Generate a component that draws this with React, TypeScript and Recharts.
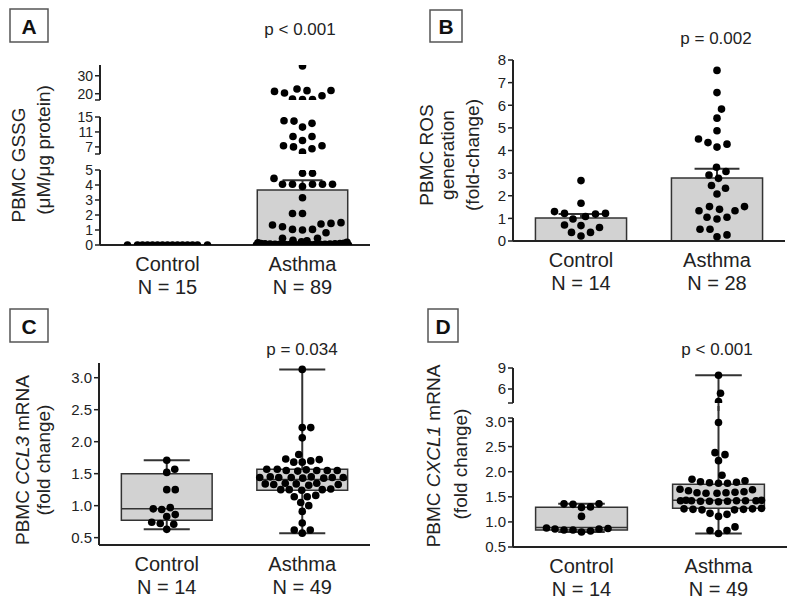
import React from 'react'
import { ComposedChart, XAxis, YAxis, Scatter, ReferenceArea, ReferenceLine } from 'recharts'

const groups = ['Control', 'Asthma']

// A: PBMC GSSG (µM/µg protein), bars = mean ± SEM
const gssgN = ['N = 15', 'N = 89']
const gssgControl = [0, 0, 0, 0, 0, 0, 0, 0, 0, 0, 0, 0, 0, 0, 0]
const gssgAsthma = [
  35.5, 22.6, 21.8, 21.7, 21.3, 20.4, 18.9, 17.0, 16.8, 16.7,
  14.0, 13.9, 13.3, 12.3, 9.8, 9.8, 8.7, 7.3, 7.3, 7.0, 6.5, 5.6,
  4.78, 4.78, 4.44, 4.05, 4.05, 4.05, 4.05, 4.05, 3.9, 3.15, 2.1, 2.1,
  1.49, 1.44, 1.4, 1.33, 1.22, 1.04, 1.04, 1.0, 0.82, 0.45, 0.45,
  0.32, 0.28, 0.22, 0.18, 0.15, 0.12, 0.1, 0.1, 0.08, 0.08, 0.06, 0.06,
  0.05, 0.05, 0.04, 0.04, 0.03, 0.03, 0.03, 0.02, 0.02, 0.02, 0.02,
  0.01, 0.01, 0.01, 0.01, 0.01, 0, 0, 0, 0, 0, 0, 0, 0, 0, 0, 0, 0, 0, 0, 0, 0,
]
const gssgMean = [0, 3.67]
const gssgSem = [0, 0.65]

// B: PBMC ROS generation (fold-change)
const rosN = ['N = 14', 'N = 28']
const rosControl = [2.67, 1.67, 1.3, 1.22, 1.22, 1.19, 1.08, 0.97, 0.71, 0.68, 0.6, 0.38, 0.38, 0.22]
const rosAsthma = [
  7.54, 6.56, 5.83, 5.43, 4.87, 4.51, 4.35, 4.28, 4.15, 3.26, 3.07, 2.92, 2.77, 2.45,
  2.33, 2.08, 1.52, 1.52, 1.4, 1.34, 1.34, 1.05, 1.05, 0.97, 0.52, 0.52, 0.27, 0.19,
]
const rosMean = [1.02, 2.79]
const rosSem = [0.17, 0.4]

// C: PBMC CCL3 mRNA (fold change), box = min / q1 / median / q3 / max
const ccl3N = ['N = 14', 'N = 49']
const ccl3Control = [1.71, 1.57, 1.52, 1.25, 1.25, 0.97, 0.95, 0.94, 0.86, 0.83, 0.74, 0.72, 0.71, 0.63]
const ccl3Asthma = [
  3.13, 2.22, 2.22, 2.06, 1.8, 1.73, 1.72, 1.7, 1.68, 1.68,
  1.57, 1.57, 1.56, 1.55, 1.55, 1.55, 1.55, 1.54,
  1.45, 1.45, 1.44, 1.44, 1.44, 1.44, 1.44, 1.43, 1.43,
  1.35, 1.35, 1.34, 1.34, 1.33, 1.33, 1.32,
  1.26, 1.25, 1.25, 1.25, 1.24, 1.16, 1.14, 1.14, 1.05, 1.0, 0.91, 0.73, 0.62, 0.62, 0.57,
]
const ccl3Min = [0.63, 0.57]
const ccl3Q1 = [0.77, 1.24]
const ccl3Median = [0.95, 1.41]
const ccl3Q3 = [1.5, 1.57]
const ccl3Max = [1.71, 3.13]

// D: PBMC CXCL1 mRNA (fold change)
const cxcl1N = ['N = 14', 'N = 49']
const cxcl1Control = [1.36, 1.36, 1.35, 1.3, 1.29, 1.11, 0.88, 0.87, 0.86, 0.86, 0.84, 0.84, 0.82, 0.8]
const cxcl1Asthma = [
  7.96, 5.4, 4.2, 2.98, 2.38, 2.34, 2.22, 1.93,
  1.85, 1.82, 1.8, 1.79, 1.78, 1.77, 1.77,
  1.65, 1.64, 1.62, 1.6, 1.59, 1.58, 1.58, 1.57, 1.57,
  1.43, 1.43, 1.42, 1.42, 1.42, 1.42, 1.42, 1.41, 1.41, 1.41, 1.4,
  1.27, 1.26, 1.26, 1.25, 1.25, 1.24, 1.24, 1.17, 1.15, 1.11, 0.9, 0.83, 0.83, 0.77,
]
const cxcl1Min = [0.8, 0.77]
const cxcl1Q1 = [0.84, 1.27]
const cxcl1Median = [0.89, 1.43]
const cxcl1Q3 = [1.29, 1.75]
const cxcl1Max = [1.36, 7.96]

const INK = '#222'
const EDGE = '#333'
const FILL = '#d2d2d2'
const FONT = '"Liberation Sans", Arial, sans-serif'
const YW = 46
const MT = 12
const MR = 12
const MB = 8
const XH = 62
const HALF = 0.335
const DOT_R = 3.8

type Seg = { domain: [number, number]; top: number; bottom: number; ticks: number[]; labels: number[]; dec: number }
type Panel = {
  x0: number
  x1: number
  segs: Seg[]
  ns: string[]
  data: number[][]
  gap: number
  maxW: number[]
  fs: number
  bars?: { mean: number[]; sem: number[]; cap: number }
  box?: { min: number[]; q1: number[]; med: number[]; q3: number[]; max: number[]; cap: number }
}

function segIndex(segs: Seg[], v: number) {
  let best = 0
  let bestD = Infinity
  segs.forEach((s, i) => {
    const d = v < s.domain[0] ? s.domain[0] - v : v > s.domain[1] ? v - s.domain[1] : 0
    if (d < bestD) {
      bestD = d
      best = i
    }
  })
  return best
}

function toPx(segs: Seg[], v: number) {
  const s = segs[segIndex(segs, v)]
  return s.bottom - ((v - s.domain[0]) / (s.domain[1] - s.domain[0])) * (s.bottom - s.top)
}

// beeswarm: each dot goes to the free spot nearest the centre; if the group is too wide, dots overlap
function swarm(values: number[], centre: number, segs: Seg[], xppu: number, gap: number, maxW: number) {
  const sorted = [...values].sort((a, b) => a - b)
  const placed: { dx: number; py: number }[] = []
  const out: { x: number; y: number }[] = []
  const half = maxW / 2
  const cands: number[] = []
  for (let c = -half; c <= half + 1e-9; c += 0.5) cands.push(c)
  for (const v of sorted) {
    const py = toPx(segs, v)
    const near = placed.filter((q) => Math.abs(q.py - py) < gap)
    const bias = near.reduce((s, q) => s + q.dx, 0)
    let best = 0
    let bestFree = false
    let bestMd = -1
    for (const c of cands) {
      let md = Infinity
      for (const q of near) md = Math.min(md, Math.hypot(q.dx - c, q.py - py))
      const free = md >= gap
      let better = false
      if (free && !bestFree) better = true
      else if (free && bestFree) {
        const a = Math.abs(c)
        const b = Math.abs(best)
        better = a < b - 1e-9 || (Math.abs(a - b) < 1e-9 && (bias > 0 ? c < best : c > best))
      } else if (!free && !bestFree) {
        better = md > bestMd + 1e-9 || (Math.abs(md - bestMd) < 1e-9 && Math.abs(c) < Math.abs(best))
      }
      if (better) {
        best = c
        bestFree = free
        bestMd = md
      }
    }
    placed.push({ dx: best, py })
    out.push({ x: centre + best / xppu, y: v })
  }
  return out
}

function CatTick(props: any) {
  const { x, y, payload, ns } = props
  const g = payload.value < 1 ? 0 : 1
  return (
    <g>
      <text x={x} y={y + 26} textAnchor="middle" fontSize={20} fill={INK}>
        {groups[g]}
      </text>
      <text x={x} y={y + 49} textAnchor="middle" fontSize={20} fill={INK}>
        {ns[g]}
      </text>
    </g>
  )
}

function ValTick(props: any) {
  const { x, y, payload, seg, fs } = props
  if (!seg.labels.includes(payload.value)) return <g />
  return (
    <text x={x} y={y} dy={fs * 0.36} textAnchor="end" fontSize={fs} fill={INK}>
      {payload.value.toFixed(seg.dec)}
    </text>
  )
}

const Dot = (props: any) => <circle cx={props.cx} cy={props.cy} r={DOT_R} fill="#000" />

function PanelView({ p }: { p: Panel }) {
  const xppu = (p.x1 - p.x0) / 2
  const pts = p.data.map((vals, g) => swarm(vals, g + 0.5, p.segs, xppu, p.gap, p.maxW[g]))
  return (
    <>
      {p.segs.map((s, i) => {
        const last = i === p.segs.length - 1
        const [d0, d1] = s.domain
        const clamp = (v: number) => Math.max(d0, Math.min(d1, v))
        const inSeg = (v: number) => v >= d0 && v <= d1
        const els: React.ReactNode[] = []
        groups.forEach((_, g) => {
          const c = g + 0.5
          if (p.bars) {
            const m = p.bars.mean[g]
            const e = m + p.bars.sem[g]
            const w = p.bars.cap
            if (m > d0)
              els.push(
                <ReferenceArea key={`bar${g}`} x1={c - HALF} x2={c + HALF} y1={d0} y2={clamp(m)} fill={FILL}
                  fillOpacity={1} stroke={EDGE} strokeWidth={1.5} ifOverflow="visible" />,
              )
            if (m > 0 && inSeg(e)) {
              els.push(
                <ReferenceLine key={`err${g}`} segment={[{ x: c, y: m }, { x: c, y: e }]} stroke={EDGE} strokeWidth={2} ifOverflow="visible" />,
                <ReferenceLine key={`cap${g}`} segment={[{ x: c - w, y: e }, { x: c + w, y: e }]} stroke={EDGE} strokeWidth={2} ifOverflow="visible" />,
              )
            }
          }
          if (p.box) {
            const b = p.box
            const w = b.cap
            if (b.q3[g] > d0 && b.q1[g] < d1)
              els.push(
                <ReferenceArea key={`box${g}`} x1={c - HALF} x2={c + HALF} y1={clamp(b.q1[g])} y2={clamp(b.q3[g])} fill={FILL}
                  fillOpacity={1} stroke={EDGE} strokeWidth={1.5} ifOverflow="visible" />,
              )
            if (inSeg(b.med[g]))
              els.push(
                <ReferenceLine key={`med${g}`} segment={[{ x: c - HALF, y: b.med[g] }, { x: c + HALF, y: b.med[g] }]} stroke={EDGE} strokeWidth={1.5} ifOverflow="visible" />,
              )
            if (b.max[g] > d0 && b.q3[g] < d1)
              els.push(
                <ReferenceLine key={`wh${g}`} segment={[{ x: c, y: b.q3[g] }, { x: c, y: b.max[g] }]}
                  stroke={EDGE} strokeWidth={2} ifOverflow="visible" />,
              )
            if (b.min[g] < d1 && b.q1[g] > d0)
              els.push(
                <ReferenceLine key={`wl${g}`} segment={[{ x: c, y: b.min[g] }, { x: c, y: b.q1[g] }]} stroke={EDGE} strokeWidth={2} ifOverflow="visible" />,
              )
            if (inSeg(b.max[g]))
              els.push(
                <ReferenceLine key={`ch${g}`} segment={[{ x: c - w, y: b.max[g] }, { x: c + w, y: b.max[g] }]} stroke={EDGE} strokeWidth={2} ifOverflow="visible" />,
              )
            if (inSeg(b.min[g]))
              els.push(
                <ReferenceLine key={`cl${g}`} segment={[{ x: c - w, y: b.min[g] }, { x: c + w, y: b.min[g] }]} stroke={EDGE} strokeWidth={2} ifOverflow="visible" />,
              )
          }
        })
        const segPts = pts.map((arr) => arr.filter((q) => segIndex(p.segs, q.y) === i))
        const height = s.bottom - s.top + MT + (last ? XH : MB)
        return (
          <div key={i} style={{ position: 'absolute', left: p.x0 - YW, top: s.top - MT }}>
            <ComposedChart width={p.x1 - p.x0 + YW + MR} height={height}
              margin={{ top: MT, right: MR, left: 0, bottom: last ? 0 : MB }}>
              <XAxis type="number" dataKey="x" domain={[0, 2]} ticks={[0.5, 1.5]} allowDataOverflow hide={!last}
                height={XH} interval={0} tickLine={false} tickSize={0} tickMargin={0}
                axisLine={{ stroke: INK, strokeWidth: 2 }} tick={(tp: any) => <CatTick {...tp} ns={p.ns} />} />
              <YAxis type="number" dataKey="y" domain={s.domain} ticks={s.ticks} allowDataOverflow width={YW}
                interval={0} tickSize={5} tickMargin={2} tick={(tp: any) => <ValTick {...tp} seg={s} fs={p.fs} />}
                tickLine={{ stroke: INK, strokeWidth: 1.5 }} axisLine={{ stroke: INK, strokeWidth: 2 }} />
              {els}
              {segPts.map((d, g) => (
                <Scatter key={g} data={d} dataKey="y" shape={Dot} isAnimationActive={false} />
              ))}
            </ComposedChart>
          </div>
        )
      })}
    </>
  )
}

const panelA: Panel = {
  x0: 100, x1: 370, ns: gssgN, data: [gssgControl, gssgAsthma], gap: 10, maxW: [80, 92], fs: 14,
  segs: [
    { domain: [16.5, 36], top: 65, bottom: 100, ticks: [16.5, 20, 30], labels: [20, 30], dec: 0 },
    { domain: [5.1, 15], top: 117, bottom: 154, ticks: [5.1, 7, 11, 15], labels: [7, 11, 15], dec: 0 },
    { domain: [0, 5], top: 170, bottom: 245, ticks: [0, 1, 2, 3, 4, 5], labels: [0, 1, 2, 3, 4, 5], dec: 0 },
  ],
  bars: { mean: gssgMean, sem: gssgSem, cap: 0.148 },
}

const panelB: Panel = {
  x0: 513, x1: 785, ns: rosN, data: [rosControl, rosAsthma], gap: 10, maxW: [70, 80], fs: 15,
  segs: [
    { domain: [0, 8], top: 60, bottom: 241, ticks: [0, 1, 2, 3, 4, 5, 6, 7, 8], labels: [0, 1, 2, 3, 4, 5, 6, 7, 8], dec: 0 },
  ],
  bars: { mean: rosMean, sem: rosSem, cap: 0.165 },
}

const panelC: Panel = {
  x0: 99, x1: 370, ns: ccl3N, data: [ccl3Control, ccl3Asthma], gap: 8.4, maxW: [60, 86], fs: 15,
  segs: [
    { domain: [0.385, 3.23], top: 363, bottom: 545, ticks: [0.5, 1, 1.5, 2, 2.5, 3], labels: [0.5, 1, 1.5, 2, 2.5, 3], dec: 1 },
  ],
  box: { min: ccl3Min, q1: ccl3Q1, med: ccl3Median, q3: ccl3Q3, max: ccl3Max, cap: 0.17 },
}

const panelD: Panel = {
  x0: 513, x1: 787, ns: cxcl1N, data: [cxcl1Control, cxcl1Asthma], gap: 8.6, maxW: [70, 86], fs: 15,
  segs: [
    { domain: [4, 9], top: 368, bottom: 403, ticks: [4, 6, 9], labels: [6, 9], dec: 0 },
    { domain: [0.5, 3.07], top: 418, bottom: 547, ticks: [0.5, 1, 1.5, 2, 2.5, 3, 3.07], labels: [0.5, 1, 1.5, 2, 2.5, 3], dec: 1 },
  ],
  box: { min: cxcl1Min, q1: cxcl1Q1, med: cxcl1Median, q3: cxcl1Q3, max: cxcl1Max, cap: 0.17 },
}

function Letter({ x, y, w, h, t }: { x: number; y: number; w: number; h: number; t: string }) {
  return (
    <g>
      <rect x={x} y={y} width={w} height={h} fill="#fff" stroke="#555" strokeWidth={1.5} />
      <text x={x + w / 2} y={y + h / 2 + 8} textAnchor="middle" fontSize={21} fontWeight="bold" fill="#111">
        {t}
      </text>
    </g>
  )
}

function VText({ x, y, children }: { x: number; y: number; children: React.ReactNode }) {
  return (
    <text transform={`translate(${x},${y}) rotate(-90)`} textAnchor="middle" dominantBaseline="central" fontSize={19} fill={INK}>
      {children}
    </text>
  )
}

export default function App() {
  return (
    <div style={{ position: 'absolute', left: 0, top: 0, width: 800, height: 612, background: '#fff', fontFamily: FONT, overflow: 'hidden' }}>
      <PanelView p={panelA} />
      <PanelView p={panelB} />
      <PanelView p={panelC} />
      <PanelView p={panelD} />
      <svg width={800} height={612} style={{ position: 'absolute', left: 0, top: 0, pointerEvents: 'none' }}>
        <Letter x={10} y={9} w={38} h={33} t="A" />
        <Letter x={430} y={10} w={32} h={32} t="B" />
        <Letter x={10} y={309} w={38} h={33} t="C" />
        <Letter x={428} y={309} w={30} h={33} t="D" />
        <text x={300} y={35} textAnchor="middle" fontSize={17} fill={INK}>p &lt; 0.001</text>
        <text x={716} y={44} textAnchor="middle" fontSize={17} fill={INK}>p = 0.002</text>
        <text x={302} y={355} textAnchor="middle" fontSize={17} fill={INK}>p = 0.034</text>
        <text x={717} y={355} textAnchor="middle" fontSize={17} fill={INK}>p &lt; 0.001</text>
        <VText x={18} y={165}>PBMC GSSG</VText>
        <VText x={43} y={150}>(μM/μg protein)</VText>
        <VText x={426} y={155}>PBMC ROS</VText>
        <VText x={447} y={155}>generation</VText>
        <VText x={472} y={155}>(fold-change)</VText>
        <VText x={22} y={460}>
          PBMC <tspan fontStyle="italic">CCL3</tspan> mRNA
        </VText>
        <VText x={43} y={460}>(fold change)</VText>
        <VText x={433} y={456}>
          PBMC <tspan fontStyle="italic">CXCL1</tspan> mRNA
        </VText>
        <VText x={460} y={464}>(fold change)</VText>
      </svg>
    </div>
  )
}
